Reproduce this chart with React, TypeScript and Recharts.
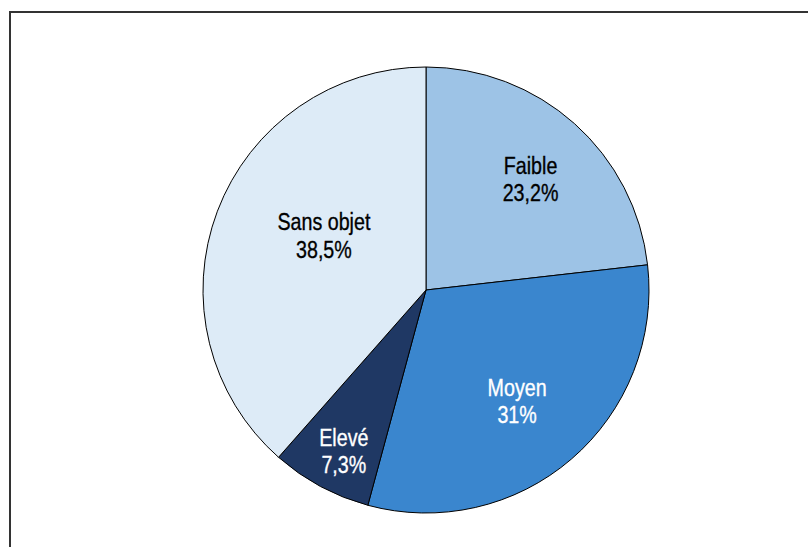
import React from 'react';
import { PieChart, Pie, Cell } from 'recharts';

const CATEGORIES = ['Faible', 'Moyen', 'Elevé', 'Sans objet'];
const SHARES = [23.2, 31, 7.3, 38.5];

const SLICE_COLORS: Record<string, string> = {
	Faible: '#9dc3e6',
	Moyen: '#3a86ce',
	Elevé: '#1f3864',
	'Sans objet': '#ddebf7',
};

const LABEL_COLORS: Record<string, string> = {
	Faible: '#000',
	Moyen: '#fff',
	Elevé: '#fff',
	'Sans objet': '#000',
};

// label placement: distance from centre (fraction of radius) and angle shift from mid angle
const LABEL_LAYOUT: Record<string, { r: number; shift: number }> = {
	Faible: { r: 0.684, shift: -1.5 },
	Moyen: { r: 0.644, shift: -1.3 },
	Elevé: { r: 0.81, shift: 1.2 },
	'Sans objet': { r: 0.52, shift: -7.6 },
};

// no narrow font available: squeeze Liberation Sans horizontally (≈ Arial Narrow)
const FONT = '"Liberation Sans", Arial, sans-serif';
const RAD = Math.PI / 180;

const data = CATEGORIES.map((name, i) => ({ name, value: SHARES[i] }));

function fmt(v: number): string {
	return `${String(v).replace('.', ',')}%`;
}

function renderLabel(props: any) {
	const { cx, cy, midAngle, outerRadius, name, value } = props;
	const layout = LABEL_LAYOUT[name] ?? { r: 0.6, shift: 0 };
	const a = (midAngle + layout.shift) * RAD;
	const r = outerRadius * layout.r;
	const x = cx + r * Math.cos(a);
	const y = cy - r * Math.sin(a);
	const fill = LABEL_COLORS[name] ?? '#000';
	return (
		<text
			x={0}
			y={0}
			transform={`translate(${x},${y}) scale(0.82,1)`}
			textAnchor="middle"
			fill={fill}
			stroke={fill}
			strokeWidth={0.35}
			fontFamily={FONT}
			fontSize={24}
		>
			<tspan x={0} dy={-5}>{name}</tspan>
			<tspan x={0} dy={27.5}>{fmt(value)}</tspan>
		</text>
	);
}

export default function App() {
	return (
		<div style={{ position: 'absolute', left: 0, top: 0, width: 808, height: 547, background: '#fff', overflow: 'hidden' }}>
			<div
				style={{
					position: 'absolute',
					left: 9,
					top: 11,
					width: 840,
					height: 580,
					border: '2px solid #333',
				}}
			/>
			<PieChart
				width={808}
				height={547}
				margin={{ top: 0, right: 0, bottom: 0, left: 0 }}
				style={{ position: 'absolute', left: 0, top: 0 }}
			>
				<Pie
					data={data}
					dataKey="value"
					nameKey="name"
					cx={426}
					cy={290}
					outerRadius={223}
					startAngle={90}
					endAngle={-270}
					stroke="#000"
					strokeWidth={1}
					label={renderLabel}
					labelLine={false}
					isAnimationActive={false}
				>
					{data.map((d) => (
						<Cell key={d.name} fill={SLICE_COLORS[d.name]} />
					))}
				</Pie>
			</PieChart>
		</div>
	);
}
